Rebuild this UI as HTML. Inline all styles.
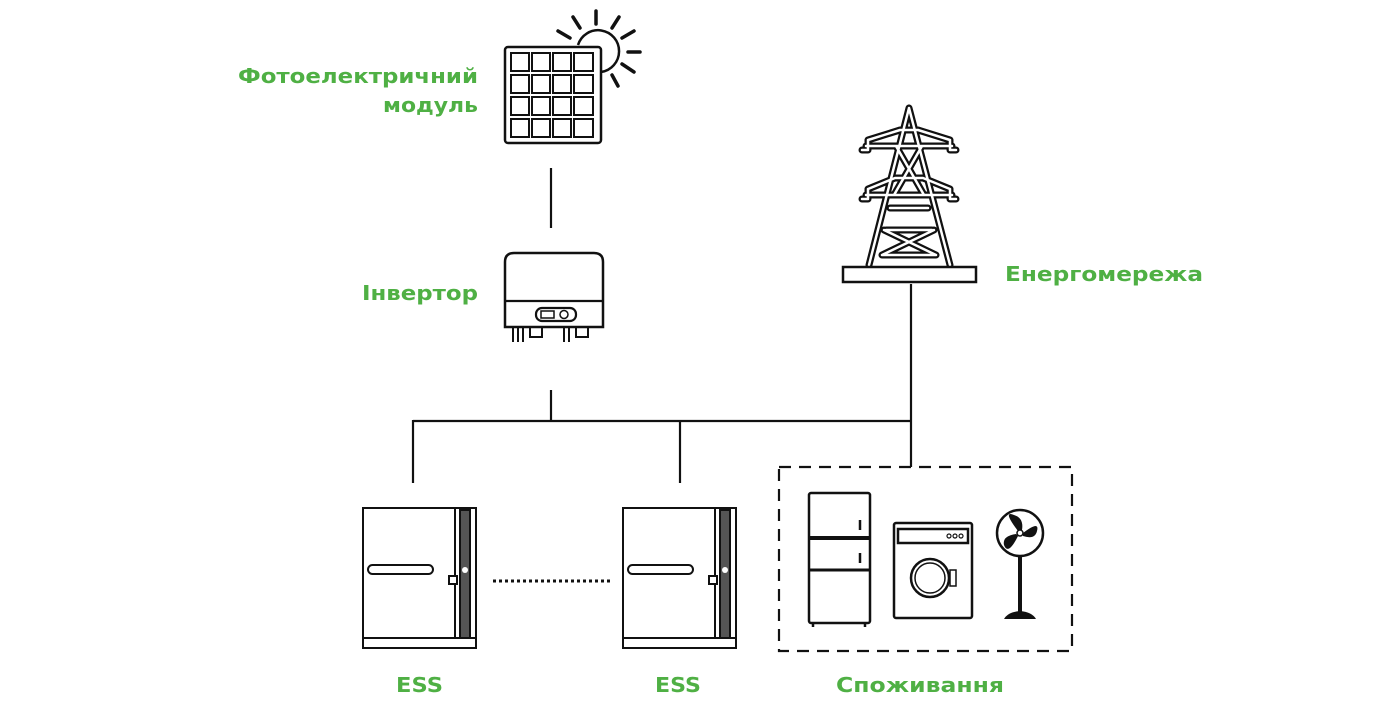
<!DOCTYPE html>
<html><head><meta charset="utf-8"><style>
html,body{margin:0;padding:0;background:#fff;}
svg{display:block;}
.t{font-family:"DejaVu Sans","Liberation Sans",sans-serif;font-weight:bold;fill:#4fb044;font-size:20px;}
</style></head><body>
<svg width="1400" height="704" viewBox="0 0 1400 704" xmlns="http://www.w3.org/2000/svg">
<g fill="none" stroke="#111" stroke-width="2.2">
<!-- sun -->
<path d="M578 45 A21 21 0 1 1 601 72" stroke-width="2.5"/>
<g stroke-width="3.5" stroke-linecap="round">
<line x1="596" y1="11" x2="596" y2="24"/>
<line x1="573" y1="17" x2="580" y2="28"/>
<line x1="558" y1="31" x2="570" y2="38"/>
<line x1="619" y1="17" x2="612" y2="28"/>
<line x1="634" y1="31" x2="622" y2="38"/>
<line x1="628" y1="52" x2="640" y2="52"/>
<line x1="622" y1="64" x2="634" y2="72"/>
<line x1="612" y1="75" x2="618" y2="86"/>
</g>
<!-- panel -->
<rect x="505" y="47" width="96" height="96" rx="3" fill="#fff" stroke-width="2.5"/>
<g stroke-width="2">
<rect x="511" y="53" width="18" height="18"/><rect x="532" y="53" width="18" height="18"/><rect x="553" y="53" width="18" height="18"/><rect x="574" y="53" width="19" height="18"/>
<rect x="511" y="75" width="18" height="18"/><rect x="532" y="75" width="18" height="18"/><rect x="553" y="75" width="18" height="18"/><rect x="574" y="75" width="19" height="18"/>
<rect x="511" y="97" width="18" height="18"/><rect x="532" y="97" width="18" height="18"/><rect x="553" y="97" width="18" height="18"/><rect x="574" y="97" width="19" height="18"/>
<rect x="511" y="119" width="18" height="18"/><rect x="532" y="119" width="18" height="18"/><rect x="553" y="119" width="18" height="18"/><rect x="574" y="119" width="19" height="18"/>
</g>
<!-- lines -->
<line x1="551" y1="168" x2="551" y2="228"/>
<line x1="551" y1="390" x2="551" y2="421"/>
<line x1="413" y1="421" x2="912" y2="421"/>
<line x1="413" y1="420" x2="413" y2="483"/>
<line x1="680" y1="420" x2="680" y2="483"/>
<line x1="911" y1="284" x2="911" y2="467"/>
<!-- inverter -->
<path d="M505 327 V262 Q505 253 514 253 H594 Q603 253 603 262 V327 Z" stroke-width="2.5"/>
<line x1="505" y1="301" x2="603" y2="301"/>
<rect x="536" y="308" width="40" height="13" rx="6"/>
<rect x="541" y="311" width="13" height="7" stroke-width="1.5"/>
<circle cx="564" cy="314.5" r="4" stroke-width="1.5"/>
<path d="M513 327 v15 M518 327 v15 M523 327 v15 M530 327 v10 h12 v-10 M564 327 v15 M569 327 v15 M576 327 v10 h12 v-10" stroke-width="2"/>
<!-- tower: outline trick -->
<path stroke="#111" stroke-width="7" stroke-linejoin="round" stroke-linecap="round" d="M909 108 L869 265 M909 108 L950 265
M868 140 L900 130 H918 L950 140 M866 146 H952 M868 140 V150 H862 M950 140 V150 H956
M868 189 L895 178 H923 L950 189 M866 195 H952 M868 189 V199 H862 M950 189 V199 H956
M896 146 L924 195 M922 146 L894 195
M886 230 H932 M882 255 H936 M884 230 L936 255 M934 230 L882 255 M890 208 H928"/>
<path stroke="#fff" stroke-width="2.5" stroke-linejoin="round" stroke-linecap="round" d="M909 108 L869 265 M909 108 L950 265
M868 140 L900 130 H918 L950 140 M866 146 H952 M868 140 V150 H862 M950 140 V150 H956
M868 189 L895 178 H923 L950 189 M866 195 H952 M868 189 V199 H862 M950 189 V199 H956
M896 146 L924 195 M922 146 L894 195
M886 230 H932 M882 255 H936 M884 230 L936 255 M934 230 L882 255 M890 208 H928"/>
<rect x="843" y="267" width="133" height="15" stroke-width="2.5" fill="#fff"/>
<!-- ESS -->
<g stroke-width="2">
<rect x="363" y="508" width="113" height="140"/><line x1="363" y1="638" x2="476" y2="638"/>
<line x1="455" y1="508" x2="455" y2="638"/><rect x="460" y="510" width="10" height="128" fill="#555"/>
<rect x="368" y="565" width="65" height="9" rx="4.5"/><rect x="449" y="576" width="8" height="8" fill="#fff"/>
<rect x="623" y="508" width="113" height="140"/><line x1="623" y1="638" x2="736" y2="638"/>
<line x1="715" y1="508" x2="715" y2="638"/><rect x="720" y="510" width="10" height="128" fill="#555"/>
<rect x="628" y="565" width="65" height="9" rx="4.5"/><rect x="709" y="576" width="8" height="8" fill="#fff"/>
</g>
<circle cx="465" cy="570" r="3" fill="#fff" stroke="none"/><circle cx="725" cy="570" r="3" fill="#fff" stroke="none"/>
<line x1="493" y1="581" x2="610" y2="581" stroke-width="3" stroke-dasharray="3 3"/>
<!-- dashed box -->
<rect x="779" y="467" width="293" height="184" stroke-dasharray="12 8" stroke-width="2.2"/>
<!-- fridge -->
<g stroke-width="2.5">
<rect x="809" y="493" width="61" height="130" rx="2"/>
<line x1="809" y1="538" x2="870" y2="538" stroke-width="4"/>
<line x1="809" y1="570" x2="870" y2="570" stroke-width="3"/>
<line x1="860" y1="520" x2="860" y2="530"/><line x1="860" y1="553" x2="860" y2="563"/>
<line x1="813" y1="623" x2="813" y2="627"/><line x1="865" y1="623" x2="865" y2="627"/>
<!-- washer -->
<rect x="894" y="523" width="78" height="95" rx="2"/>
<rect x="898" y="529" width="70" height="14"/>
<circle cx="930" cy="578" r="19"/><circle cx="930" cy="578" r="15" stroke-width="1.5"/>
<rect x="950" y="570" width="6" height="16" stroke-width="1.5"/>
<!-- fan -->
<circle cx="1020" cy="533" r="23"/>
<line x1="1020" y1="556" x2="1020" y2="612" stroke-width="4"/>
</g>
<circle cx="949" cy="536" r="2" stroke-width="1.2"/><circle cx="955" cy="536" r="2" stroke-width="1.2"/><circle cx="961" cy="536" r="2" stroke-width="1.2"/>
<g fill="#111" stroke="none">
<path d="M1018 531 Q1002 510 1014 515 Q1024 518 1022 530Z"/>
<path d="M1023 533 Q1040 520 1037 531 Q1035 540 1023 536Z"/>
<path d="M1018 536 Q1008 556 1004 545 Q1002 536 1016 534Z"/>
<path d="M1004 619 Q1008 612 1020 611 Q1032 612 1036 619Z"/>
</g>
<circle cx="1020" cy="533" r="3" fill="#fff" stroke-width="1.5"/>
</g>
<text class="t" x="238" y="83" textLength="240" lengthAdjust="spacingAndGlyphs">Фотоелектричний</text>
<text class="t" x="383" y="112" textLength="95" lengthAdjust="spacingAndGlyphs">модуль</text>
<text class="t" x="362" y="300" textLength="116" lengthAdjust="spacingAndGlyphs">Інвертор</text>
<text class="t" x="1005" y="281" textLength="198" lengthAdjust="spacingAndGlyphs">Енергомережа</text>
<text class="t" x="396" y="692" textLength="47" lengthAdjust="spacingAndGlyphs">ESS</text>
<text class="t" x="655" y="692" textLength="46" lengthAdjust="spacingAndGlyphs">ESS</text>
<text class="t" x="836" y="692" textLength="168" lengthAdjust="spacingAndGlyphs">Споживання</text>
</svg>
</body></html>
